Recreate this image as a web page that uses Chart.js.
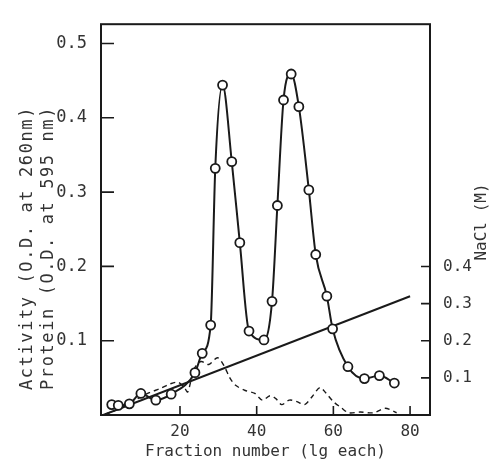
<!DOCTYPE html>
<html>
<head>
<meta charset="utf-8">
<script src="https://cdn.jsdelivr.net/npm/chart.js@4"></script>
<style>
  html, body { margin: 0; padding: 0; background: #fff; }
  #wrap { width: 491px; height: 461px; }
</style>
</head>
<body>
<div id="wrap"><canvas id="elutionChart" width="491" height="461"></canvas></div>
<script>
// Activity (open circles, solid line)
const activityFraction = [2.2, 3.9, 6.8, 9.8, 13.7, 17.7, 23.9, 25.8, 28.0, 29.2, 31.1, 33.5, 35.6, 38.0,
    41.9, 44.0, 45.4, 47.0, 49.0, 51.0, 53.6, 55.4, 58.3, 59.8, 63.8, 68.1, 72.0, 75.9];
const activityOD = [0.014, 0.013, 0.015, 0.029, 0.020, 0.028, 0.057, 0.083, 0.121, 0.332, 0.444, 0.341, 0.232, 0.113,
    0.101, 0.153, 0.282, 0.424, 0.459, 0.415, 0.303, 0.216, 0.160, 0.116, 0.065, 0.049, 0.053, 0.043];

// Protein (dashed line)
const proteinFraction = [0.5, 3, 5.5, 9, 12, 15, 17.5, 19.5, 21, 22, 22.8, 23.8, 25.5, 27.5, 29.8, 31.5, 33, 34.5,
    37, 39.5, 41.5, 43.5, 45, 46.5, 48.5, 50.5, 52.5, 54.5, 56.5, 58, 60, 62, 64, 67, 70.5, 73.5, 76.5];
const proteinOD = [0.001, 0.006, 0.012, 0.022, 0.030, 0.036, 0.042, 0.044, 0.038, 0.031, 0.045, 0.063, 0.072, 0.068,
    0.077, 0.066, 0.050, 0.040, 0.033, 0.029, 0.020, 0.026, 0.022, 0.014, 0.020, 0.018, 0.014, 0.025, 0.037, 0.030,
    0.018, 0.010, 0.003, 0.004, 0.003, 0.009, 0.003];

// NaCl gradient (straight line, right axis)
const naclFraction = [0, 80];
const naclM = [0, 0.32];

const xTicks = [20, 40, 60, 80];
const yTicks = [0.1, 0.2, 0.3, 0.4, 0.5];
const y2Ticks = [0.1, 0.2, 0.3, 0.4];

const ink = "#1a1a1a";
const textInk = "#333";
const mono = "'DejaVu Sans Mono', monospace";

function pts(xs, ys) {
    return xs.map((x, i) => ({ x: x, y: ys[i] }));
}

// box, inward tick marks and the rotated axis titles
const framePlugin = {
    id: "frame",
    afterDraw(chart) {
        const ctx = chart.ctx;
        const a = chart.chartArea;
        ctx.save();
        ctx.strokeStyle = ink;
        ctx.lineWidth = 2;
        ctx.strokeRect(a.left, a.top, a.right - a.left, a.bottom - a.top);

        ctx.lineWidth = 1.6;
        ctx.beginPath();
        chart.scales.x.ticks.forEach(t => {
            const px = chart.scales.x.getPixelForValue(t.value);
            ctx.moveTo(px, a.bottom);
            ctx.lineTo(px, a.bottom - 9);
        });
        chart.scales.y.ticks.forEach(t => {
            const py = chart.scales.y.getPixelForValue(t.value);
            ctx.moveTo(a.left, py);
            ctx.lineTo(a.left + 13, py);
        });
        chart.scales.y2.ticks.forEach(t => {
            const py = chart.scales.y2.getPixelForValue(t.value);
            ctx.moveTo(a.right, py);
            ctx.lineTo(a.right - 9, py);
        });
        ctx.stroke();

        ctx.fillStyle = textInk;
        ctx.textAlign = "center";
        ctx.textBaseline = "middle";
        ctx.font = "17px " + mono;
        ctx.letterSpacing = "1.6px";
        ctx.translate(28, 248);
        ctx.rotate(-Math.PI / 2);
        ctx.fillText("Activity (O.D. at 260nm)", 0, 0);
        ctx.fillText("Protein (O.D. at 595 nm)", 0, 21);
        ctx.setTransform(1, 0, 0, 1, 0, 0);

        ctx.letterSpacing = "0px";
        ctx.font = "16px " + mono;
        ctx.translate(482, 222);
        ctx.rotate(-Math.PI / 2);
        ctx.fillText("NaCl (M)", 0, 0);
        ctx.restore();
    }
};

new Chart(document.getElementById("elutionChart").getContext("2d"), {
    type: "scatter",
    data: {
        datasets: [
            {
                label: "Activity",
                data: pts(activityFraction, activityOD),
                showLine: true,
                cubicInterpolationMode: "monotone",
                borderColor: ink,
                borderWidth: 2,
                pointRadius: 4.5,
                pointBorderWidth: 1.8,
                pointBackgroundColor: "#fff",
                pointBorderColor: ink,
                yAxisID: "y"
            },
            {
                label: "Protein",
                data: pts(proteinFraction, proteinOD),
                showLine: true,
                tension: 0.3,
                borderColor: ink,
                borderWidth: 1.4,
                borderDash: [5, 4],
                pointRadius: 0,
                yAxisID: "y"
            },
            {
                label: "NaCl",
                data: pts(naclFraction, naclM),
                showLine: true,
                borderColor: ink,
                borderWidth: 2,
                pointRadius: 0,
                yAxisID: "y2"
            }
        ]
    },
    options: {
        responsive: false,
        animation: false,
        layout: { padding: { top: 15, left: 0, right: 0, bottom: 0 } },
        plugins: {
            legend: { display: false },
            tooltip: { enabled: false }
        },
        scales: {
            x: {
                type: "linear",
                min: -0.6,
                max: 85.2,
                grid: { display: false, drawTicks: false },
                border: { display: false },
                afterBuildTicks: s => { s.ticks = xTicks.map(v => ({ value: v })); },
                afterFit: s => { s.height = 46; },
                ticks: { color: textInk, padding: 7, font: { family: mono, size: 16 } },
                title: {
                    display: true,
                    text: "Fraction number (lg each)",
                    color: textInk,
                    padding: { top: 0, bottom: 0 },
                    font: { family: mono, size: 16 }
                }
            },
            y: {
                position: "left",
                min: 0,
                max: 0.526,
                grid: { display: false, drawTicks: false },
                border: { display: false },
                afterBuildTicks: s => { s.ticks = yTicks.map(v => ({ value: v })); },
                afterFit: s => { s.width = 101; },
                ticks: { color: textInk, padding: 14, font: { family: mono, size: 17 }, callback: v => v.toFixed(1) }
            },
            y2: {
                position: "right",
                min: 0,
                max: 1.053,
                grid: { display: false, drawTicks: false },
                border: { display: false },
                afterBuildTicks: s => { s.ticks = y2Ticks.map(v => ({ value: v })); },
                afterFit: s => { s.width = 61; },
                ticks: { color: textInk, padding: 13, font: { family: mono, size: 16 }, callback: v => v.toFixed(1) }
            }
        }
    },
    plugins: [framePlugin]
});
</script>
</body>
</html>
